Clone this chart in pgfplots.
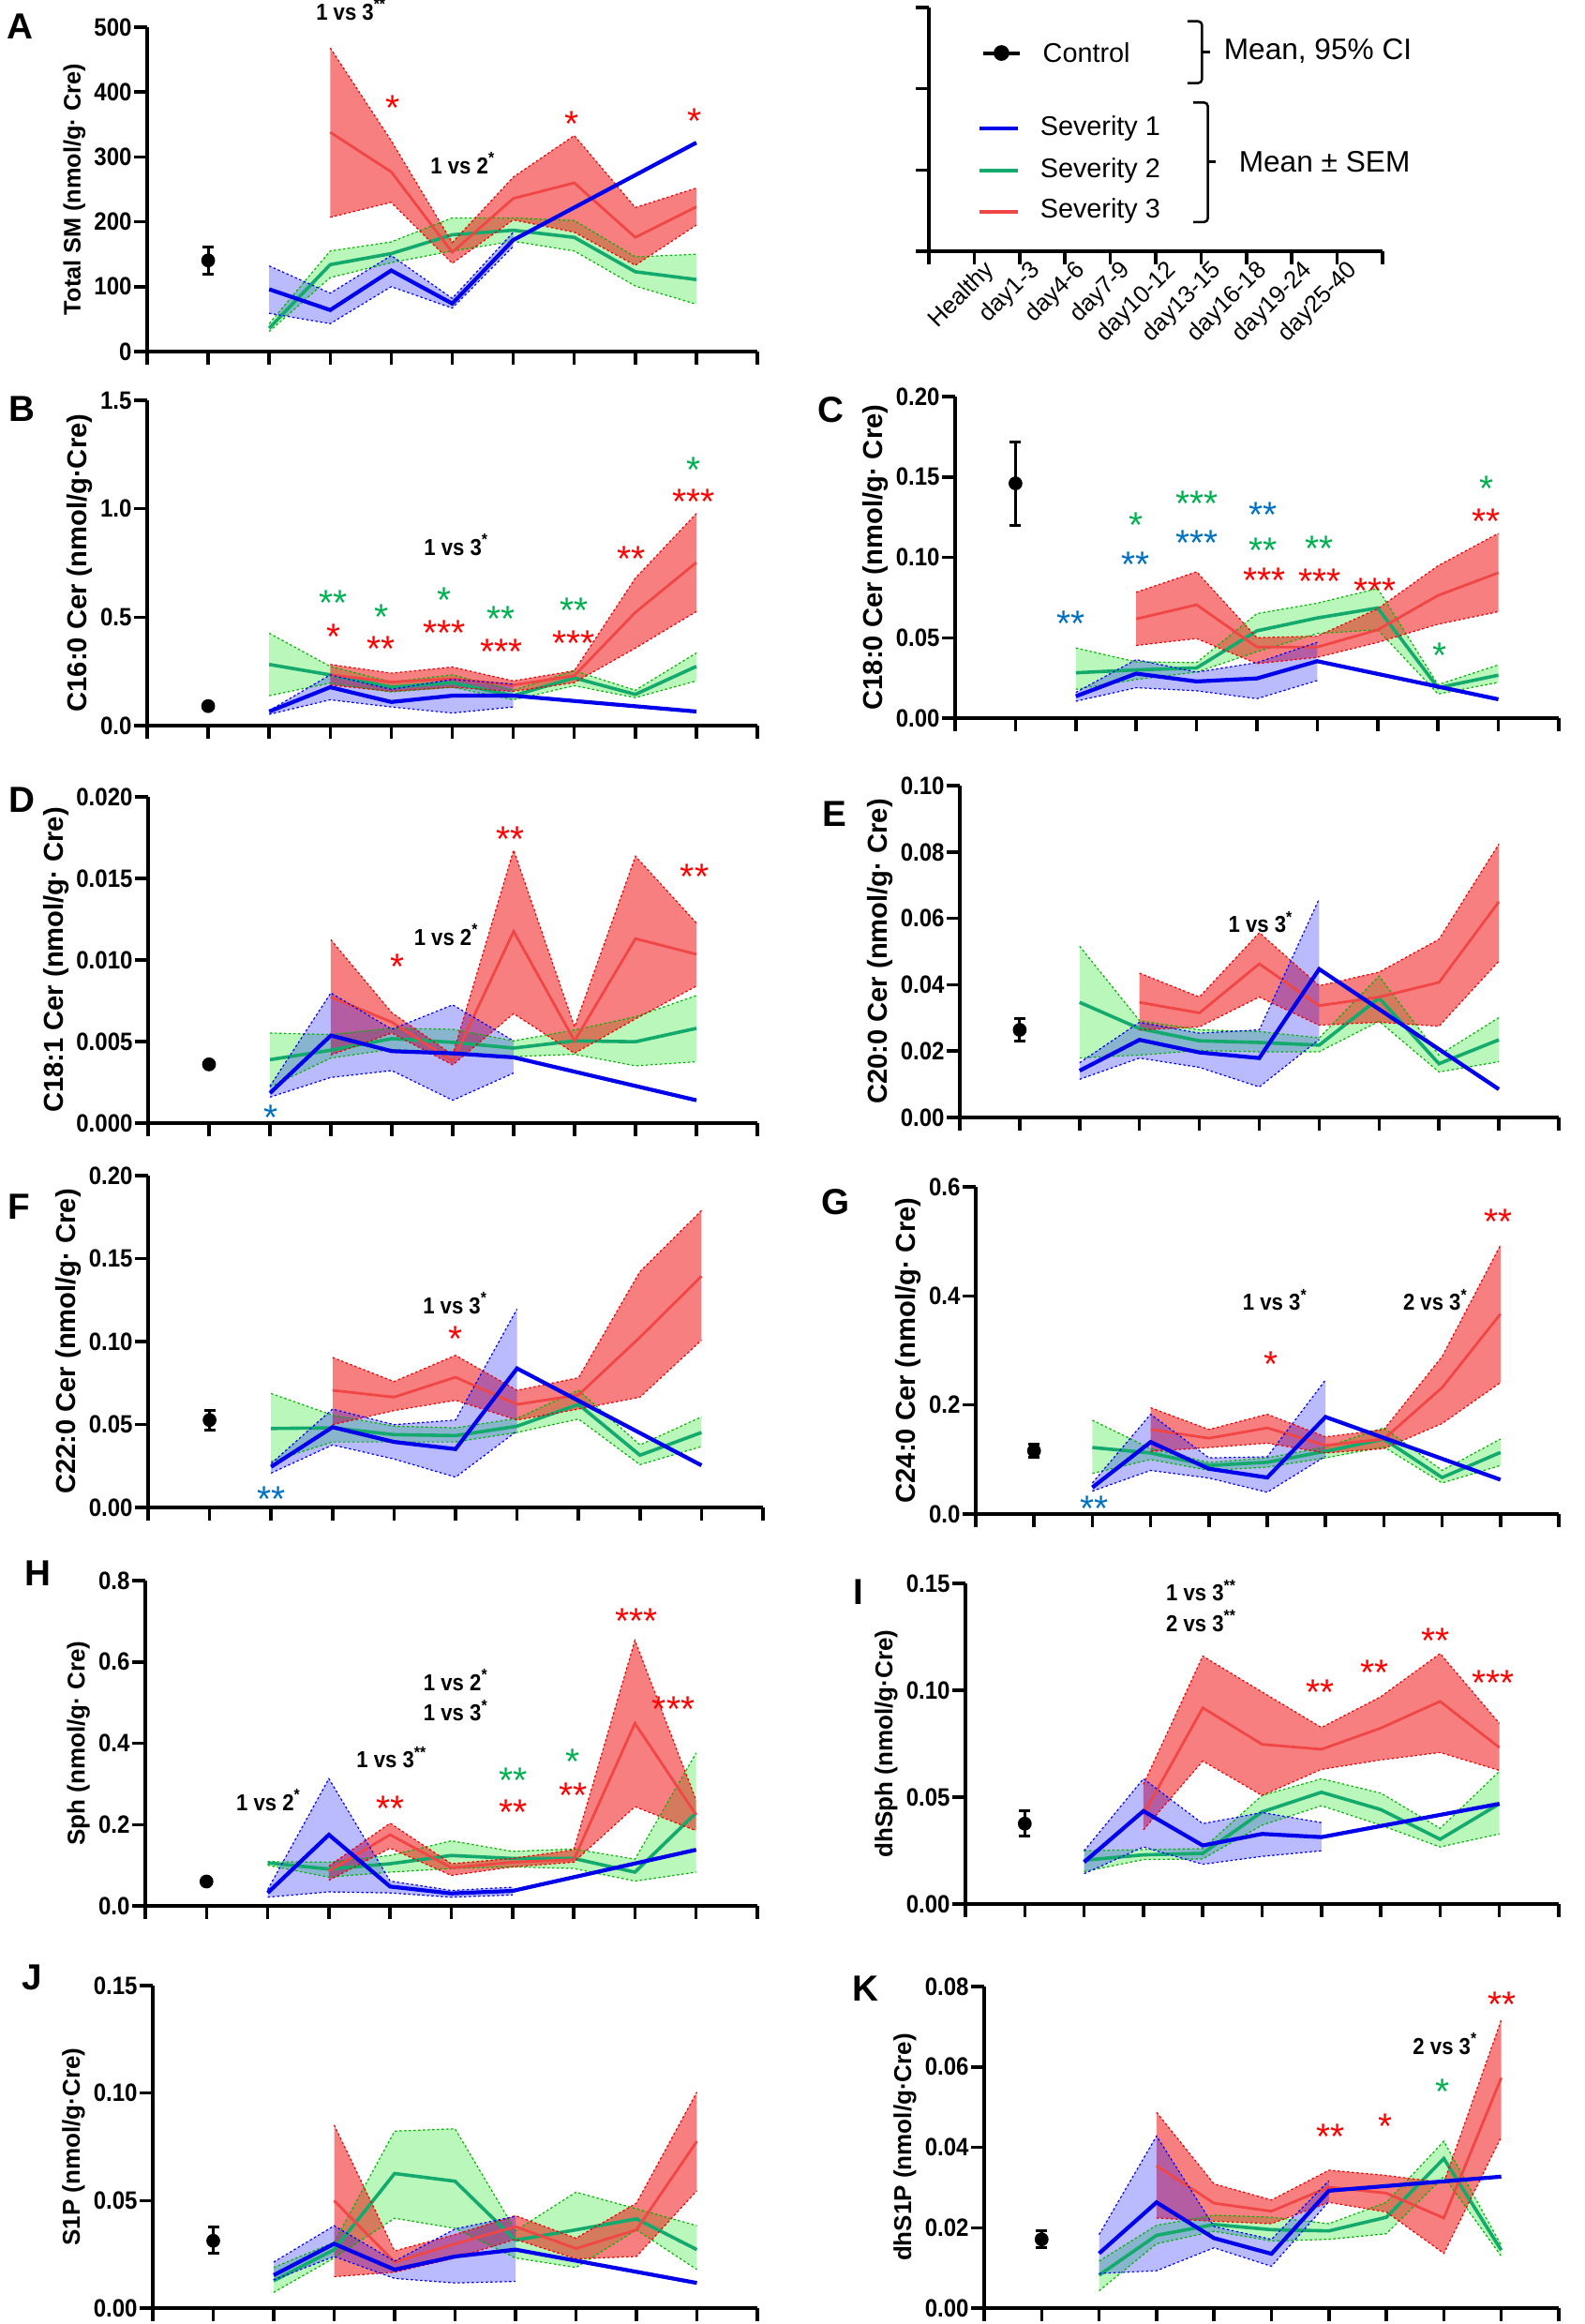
\documentclass[border=0pt]{standalone}
\usepackage{fontspec}
\setmainfont{Liberation Sans}
\newfontfamily\cond[FakeStretch=0.9]{Liberation Sans}
\usepackage{pgfplots}
\pgfplotsset{compat=1.18}
\usepgfplotslibrary{fillbetween}

\definecolor{sOne}{RGB}{0,0,235}
\definecolor{sTwo}{RGB}{20,170,110}
\definecolor{sThree}{RGB}{240,70,70}
\definecolor{bOne}{RGB}{0,0,255}
\definecolor{bTwo}{RGB}{0,225,0}
\definecolor{bThree}{RGB}{240,0,0}
\definecolor{stR}{RGB}{255,0,0}
\definecolor{stG}{RGB}{0,176,80}
\definecolor{stB}{RGB}{0,112,192}

\newcommand\tickf{\cond\bfseries\fontsize{7.6}{8}\selectfont}
\newcommand\labA{\bfseries\fontsize{7.2}{8}\selectfont}
\newcommand\labB{\bfseries\fontsize{8.3}{9}\selectfont}
\newcommand\labC{\bfseries\fontsize{7.4}{8}\selectfont}
\newcommand\annf{\cond\bfseries\fontsize{7}{8}\selectfont}
\newcommand\legf{\fontsize{8.2}{9}\selectfont}
\newcommand\legx{\fontsize{7.3}{8}\selectfont}
\newcommand\legfb{\fontsize{9}{10}\selectfont}

\pgfplotsset{
  panel/.style={
    scale only axis, anchor=south west, clip=false,
    axis x line=bottom, axis y line=left,
    axis line style={-, line width=0.4mm, black},
    xmin=-1, xmax=9, xtick={-1,0,...,9}, xticklabels={},
    tick align=outside, major tick length=1.4mm,
    every tick/.style={black, line width=0.35mm},
    scaled y ticks=false,
    /pgf/number format/assume math mode=true,
    tick label style={font=\tickf},
    yticklabel style={inner xsep=0.5pt},
    ylabel style={font=\labA}, ylabel shift=-0.5mm,
  },
  labB/.style={ylabel style={font=\labB}, ylabel shift=-0.6mm},
  labC/.style={ylabel style={font=\labC}, ylabel shift=-0.5mm},
  ydec/.style={yticklabel style={/pgf/number format/.cd, fixed, fixed zerofill, precision=#1}},
  lineone/.style={sOne, line width=0.42mm, no markers},
  linetwo/.style={sTwo, line width=0.36mm, no markers},
  linethree/.style={sThree, line width=0.28mm, no markers},
  edgeone/.style={bOne, line width=0.12mm, dash pattern=on 0.25mm off 0.25mm, no markers},
  edgetwo/.style={bTwo!80!black, line width=0.12mm, dash pattern=on 0.25mm off 0.25mm, no markers},
  edgethree/.style={bThree, line width=0.12mm, dash pattern=on 0.25mm off 0.25mm, no markers},
  fillone/.style={fill=bOne, fill opacity=0.27, draw=none},
  filltwo/.style={fill=bTwo, fill opacity=0.27, draw=none},
  fillthree/.style={fill=bThree, fill opacity=0.5, draw=none},
}
\tikzset{
  st/.style={font=\fontsize{11}{11}\selectfont, anchor=base, yshift=-6.3pt, inner sep=0pt},
  an/.style={font=\annf, inner sep=0pt, align=center},
  plab/.style={font=\bfseries\fontsize{11}{11}\selectfont, inner sep=0pt},
  lg/.style={anchor=west, font=\legf, inner sep=0pt},
}
% #1 series, #2 upper, #3 lower, #4 mean line
\newcommand\band[4]{%
  \addplot[edge#1, name path=u#1] coordinates {#2};
  \addplot[edge#1, name path=l#1] coordinates {#3};
  \addplot[fill#1] fill between[of=u#1 and l#1];
  \addplot[line#1] coordinates {#4};
}
% control: mean, lower CI, upper CI
\newcommand\ctrl[3]{%
  \addplot[black, line width=0.3mm] coordinates {(0,#2) (0,#3)};
  \addplot[black, only marks, mark=-, mark size=0.6mm, mark options={line width=0.3mm}] coordinates {(0,#2) (0,#3)};
  \addplot[black, only marks, mark=*, mark size=1.9pt] coordinates {(0,#1)};
}

\begin{document}
\begin{tikzpicture}

% ---------------- Panel A
\begin{axis}[panel, at={(15.7mm,-37.5mm)}, width=65.1mm, height=34.6mm,
  ymin=0, ymax=500, ytick={0,100,200,300,400,500},
  ylabel={Total SM (nmol/g· Cre)}]
\ctrl{140.5}{119}{161}
\band{two}{(1,43) (2,155) (3,169) (4,206) (5,206) (6,202) (7,146) (8,150)}
 {(1,31) (2,114) (3,137) (4,155) (5,170) (6,155) (7,101) (8,73)}
 {(1,36) (2,134) (3,151) (4,180) (5,187) (6,176) (7,123) (8,111)}
\band{three}{(2,468) (3,325) (4,168) (5,269) (6,333) (7,222) (8,252)}
 {(2,207) (3,230) (4,136) (5,203) (6,184) (7,133) (8,195)}
 {(2,338) (3,277) (4,153) (5,236) (6,260) (7,176) (8,223)}
\band{one}{(1,132) (2,90) (3,148) (4,82) (5,184)}
 {(1,59) (2,43) (3,100) (4,67) (5,162)}
 {(1,96) (2,64) (3,125) (4,74) (5,172) (8,322)}
\node[an] at (axis cs:2.35,527) {1 vs 3\textsuperscript{**}};
\node[an] at (axis cs:4.18,290) {1 vs 2\textsuperscript{*}};
\node[st,text=stR] at (axis cs:3.02,388) {*};
\node[st,text=stR] at (axis cs:5.96,364) {*};
\node[st,text=stR] at (axis cs:7.97,368) {*};
\end{axis}

% ---------------- Legend panel
\begin{axis}[panel, at={(99.1mm,-26.8mm)}, width=48.4mm, height=26.0mm,
  ymin=0, ymax=3, ytick={0,1,2,3}, yticklabels={},
  extra x ticks={0,1,2,3,4,5,6,7,8},
  extra x tick labels={Healthy,day1-3,day4-6,day7-9,day10-12,day13-15,day16-18,day19-24,day25-40},
  extra x tick style={xticklabel style={rotate=45, anchor=north east, font=\legx, inner sep=0.5pt, xshift=1.3mm}}]
\addplot[black, line width=0.4mm, mark=*, mark size=1.8pt, mark indices={2}] coordinates {(0.20,2.44) (0.60,2.44) (1.00,2.44)};
\addplot[sOne, line width=0.4mm] coordinates {(0.12,1.51) (0.96,1.51)};
\addplot[sTwo, line width=0.4mm] coordinates {(0.12,0.99) (0.96,0.99)};
\addplot[sThree, line width=0.4mm] coordinates {(0.12,0.49) (0.96,0.49)};
\node[lg] at (axis cs:1.50,2.44) {Control};
\node[lg] at (axis cs:1.44,1.51) {Severity 1};
\node[lg] at (axis cs:1.44,0.99) {Severity 2};
\node[lg] at (axis cs:1.44,0.49) {Severity 3};
\draw[line width=0.25mm, rounded corners=0.4mm] (axis cs:4.70,2.83) -- (axis cs:5.02,2.83) -- (axis cs:5.02,2.07) -- (axis cs:4.70,2.07);
\draw[line width=0.25mm] (axis cs:5.02,2.45) -- (axis cs:5.20,2.45);
\draw[line width=0.25mm, rounded corners=0.4mm] (axis cs:4.83,1.83) -- (axis cs:5.15,1.83) -- (axis cs:5.15,0.36) -- (axis cs:4.83,0.36);
\draw[line width=0.25mm] (axis cs:5.15,1.10) -- (axis cs:5.33,1.10);
\node[lg, font=\legfb] at (axis cs:5.49,2.46) {Mean, 95\% CI};
\node[lg, font=\legfb] at (axis cs:5.82,1.10) {Mean ± SEM};
\end{axis}

% ---------------- Panel B
\begin{axis}[panel, labB, at={(15.7mm,-77.4mm)}, width=65.1mm, height=34.7mm,
  ymin=0, ymax=1.5, ytick={0,0.5,1,1.5}, ydec=1,
  ylabel={C16:0 Cer (nmol/g·Cre)}]
\ctrl{0.09}{0.086}{0.094}
\band{two}{(1,0.426) (2,0.273) (3,0.201) (4,0.234) (5,0.163) (6,0.253) (7,0.163) (8,0.335)}
 {(1,0.138) (2,0.196) (3,0.155) (4,0.177) (5,0.119) (6,0.184) (7,0.129) (8,0.206)}
 {(1,0.282) (2,0.234) (3,0.177) (4,0.198) (5,0.138) (6,0.220) (7,0.144) (8,0.273)}
\band{three}{(2,0.282) (3,0.242) (4,0.270) (5,0.206) (6,0.253) (7,0.680) (8,0.978)}
 {(2,0.187) (3,0.158) (4,0.177) (5,0.158) (6,0.198) (7,0.357) (8,0.526)}
 {(2,0.234) (3,0.201) (4,0.216) (5,0.187) (6,0.230) (7,0.522) (8,0.752)}
\band{one}{(1,0.069) (2,0.234) (3,0.167) (4,0.213) (5,0.191)}
 {(1,0.052) (2,0.119) (3,0.086) (4,0.058) (5,0.086)}
 {(1,0.065) (2,0.177) (3,0.109) (4,0.138) (5,0.138) (8,0.065)}
\node[an] at (axis cs:4.07,0.834) {1 vs 3\textsuperscript{*}};
\node[st,text=stG] at (axis cs:2.05,0.604) {**};
\node[st,text=stR] at (axis cs:2.05,0.450) {*};
\node[st,text=stG] at (axis cs:2.84,0.541) {*};
\node[st,text=stR] at (axis cs:2.84,0.393) {**};
\node[st,text=stG] at (axis cs:3.87,0.616) {*};
\node[st,text=stR] at (axis cs:3.87,0.467) {***};
\node[st,text=stG] at (axis cs:4.80,0.529) {**};
\node[st,text=stR] at (axis cs:4.80,0.381) {***};
\node[st,text=stG] at (axis cs:5.99,0.570) {**};
\node[st,text=stR] at (axis cs:5.99,0.417) {***};
\node[st,text=stR] at (axis cs:6.93,0.807) {**};
\node[st,text=stG] at (axis cs:7.96,1.217) {*};
\node[st,text=stR] at (axis cs:7.96,1.069) {***};
\end{axis}

% ---------------- Panel C
\begin{axis}[panel, labB, at={(101.9mm,-76.6mm)}, width=64.4mm, height=34.3mm,
  ymin=0, ymax=0.2, ytick={0,0.05,0.1,0.15,0.2}, ydec=2,
  ylabel={C18:0 Cer (nmol/g· Cre)}]
\ctrl{0.146}{0.120}{0.172}
\band{two}{(1,0.0436) (2,0.035) (3,0.0345) (4,0.065) (5,0.0715) (6,0.0806) (7,0.0208) (8,0.0331)}
 {(1,0.0179) (2,0.024) (3,0.0286) (4,0.0413) (5,0.0526) (6,0.055) (7,0.015) (8,0.0222)}
 {(1,0.0282) (2,0.030) (3,0.0312) (4,0.0543) (5,0.0623) (6,0.0685) (7,0.0189) (8,0.0267)}
\band{three}{(2,0.0783) (3,0.091) (4,0.050) (5,0.051) (6,0.068) (7,0.0948) (8,0.1149)}
 {(2,0.0452) (3,0.0495) (4,0.0339) (5,0.0378) (6,0.0471) (7,0.0584) (8,0.0662)}
 {(2,0.0617) (3,0.0705) (4,0.0442) (5,0.0442) (6,0.0549) (7,0.0763) (8,0.0904)}
\band{one}{(1,0.016) (2,0.0364) (3,0.0286) (4,0.0345) (5,0.0471)}
 {(1,0.0105) (2,0.0189) (3,0.017) (4,0.0121) (5,0.0234)}
 {(1,0.0136) (2,0.0277) (3,0.0228) (4,0.0247) (5,0.0354) (8,0.0117)}
\node[st,text=stB] at (axis cs:0.92,0.0637) {**};
\node[st,text=stG] at (axis cs:1.99,0.1254) {*};
\node[st,text=stB] at (axis cs:1.99,0.1007) {**};
\node[st,text=stG] at (axis cs:3.01,0.1387) {***};
\node[st,text=stB] at (axis cs:3.01,0.1139) {***};
\node[st,text=stB] at (axis cs:4.10,0.1313) {**};
\node[st,text=stG] at (axis cs:4.10,0.1094) {**};
\node[st,text=stR] at (axis cs:4.12,0.0909) {***};
\node[st,text=stG] at (axis cs:5.03,0.1104) {**};
\node[st,text=stR] at (axis cs:5.04,0.0904) {***};
\node[st,text=stR] at (axis cs:5.96,0.0845) {***};
\node[st,text=stG] at (axis cs:7.03,0.0442) {*};
\node[st,text=stG] at (axis cs:7.80,0.148) {*};
\node[st,text=stR] at (axis cs:7.80,0.1274) {**};
\end{axis}

% ---------------- Panel D
\begin{axis}[panel, labB, at={(15.8mm,-119.8mm)}, width=65.0mm, height=34.8mm,
  ymin=0, ymax=0.02, ytick={0,0.005,0.01,0.015,0.02}, ydec=3,
  ylabel={C18:1 Cer (nmol/g· Cre)}]
\ctrl{0.0036}{0.0035}{0.0037}
\band{two}{(1,0.00552) (2,0.00543) (3,0.00581) (4,0.00575) (5,0.00504) (6,0.00571) (7,0.00652) (8,0.00782)}
 {(1,0.00222) (2,0.00399) (3,0.00453) (4,0.00418) (5,0.00408) (6,0.00422) (7,0.00351) (8,0.00376)}
 {(1,0.00389) (2,0.00447) (3,0.00518) (4,0.00495) (5,0.0046) (6,0.00504) (7,0.00499) (8,0.00581)}
\band{three}{(2,0.01124) (3,0.00677) (4,0.00418) (5,0.01674) (6,0.0059) (7,0.01636) (8,0.01227)}
 {(2,0.00418) (3,0.00552) (4,0.00357) (5,0.00671) (6,0.00428) (7,0.00639) (8,0.0084)}
 {(2,0.00773) (3,0.00619) (4,0.0038) (5,0.01175) (6,0.00504) (7,0.01131) (8,0.01035)}
\band{one}{(1,0.00226) (2,0.00798) (3,0.00575) (4,0.00725) (5,0.00504)}
 {(1,0.00159) (2,0.0028) (3,0.00322) (4,0.0014) (5,0.00307)}
 {(1,0.00184) (2,0.00537) (3,0.00441) (4,0.00428) (5,0.00403) (8,0.0014)}
\node[an] at (axis cs:3.90,0.01156) {1 vs 2\textsuperscript{*}};
\node[st,text=stR] at (axis cs:3.09,0.01012) {*};
\node[st,text=stR] at (axis cs:4.95,0.01789) {**};
\node[st,text=stR] at (axis cs:7.97,0.01559) {**};
\node[st,text=stB] at (axis cs:1.02,0.00082) {*};
\end{axis}

% ---------------- Panel E
\begin{axis}[panel, labB, at={(102.4mm,-119.2mm)}, width=63.9mm, height=35.4mm,
  ymin=0, ymax=0.1, ytick={0,0.02,0.04,0.06,0.08,0.1}, ydec=2,
  ylabel={C20:0 Cer (nmol/g· Cre)}]
\ctrl{0.0264}{0.0229}{0.0299}
\band{two}{(1,0.0516) (2,0.0292) (3,0.0264) (4,0.0259) (5,0.024) (6,0.0426) (7,0.0188) (8,0.0301)}
 {(1,0.0179) (2,0.0188) (3,0.0202) (4,0.0198) (5,0.0198) (6,0.029) (7,0.0137) (8,0.0168)}
 {(1,0.0347) (2,0.0268) (3,0.0231) (4,0.0226) (5,0.0218) (6,0.036) (7,0.0162) (8,0.0234)}
\band{three}{(2,0.0435) (3,0.0363) (4,0.0557) (5,0.0397) (6,0.0438) (7,0.0537) (8,0.0824)}
 {(2,0.0264) (3,0.0273) (4,0.0363) (5,0.0278) (6,0.0287) (7,0.0275) (8,0.0471)}
 {(2,0.0347) (3,0.0315) (4,0.0463) (5,0.0337) (6,0.0363) (7,0.0407) (8,0.065)}
\band{one}{(1,0.0165) (2,0.0287) (3,0.0254) (4,0.0264) (5,0.0659)}
 {(1,0.0115) (2,0.0179) (3,0.0151) (4,0.0092) (5,0.0235)}
 {(1,0.0141) (2,0.0234) (3,0.0196) (4,0.0179) (5,0.0447) (8,0.0085)}
\node[an] at (axis cs:4.03,0.0589) {1 vs 3\textsuperscript{*}};
\end{axis}

% ---------------- Panel F
\begin{axis}[panel, labB, at={(15.8mm,-160.8mm)}, width=65.6mm, height=35.4mm,
  ymin=0, ymax=0.2, ytick={0,0.05,0.1,0.15,0.2}, ydec=2,
  ylabel={C22:0 Cer (nmol/g· Cre)}]
\ctrl{0.0527}{0.0467}{0.0587}
\band{two}{(1,0.0687) (2,0.0556) (3,0.049) (4,0.048) (5,0.0537) (6,0.0706) (7,0.0377) (8,0.0546)}
 {(1,0.0277) (2,0.0395) (3,0.0395) (4,0.0395) (5,0.0452) (6,0.0533) (7,0.0258) (8,0.0367)}
 {(1,0.0476) (2,0.048) (3,0.0439) (4,0.0433) (5,0.049) (6,0.0621) (7,0.0315) (8,0.0452)}
\band{three}{(2,0.0904) (3,0.0759) (4,0.0917) (5,0.0706) (6,0.0782) (7,0.1422) (8,0.1789)}
 {(2,0.0499) (3,0.0584) (4,0.0646) (5,0.0527) (6,0.0593) (7,0.0665) (8,0.1008)}
 {(2,0.0706) (3,0.0665) (4,0.0785) (5,0.0621) (6,0.0678) (7,0.1026) (8,0.1394)}
\band{one}{(1,0.0265) (2,0.0593) (3,0.0499) (4,0.0527) (5,0.1196)}
 {(1,0.0207) (2,0.0377) (3,0.0292) (4,0.0183) (5,0.0461)}
 {(1,0.0245) (2,0.0484) (3,0.0395) (4,0.0352) (5,0.0838) (8,0.0254)}
\node[an] at (axis cs:4.0,0.123) {1 vs 3\textsuperscript{*}};
\node[st,text=stR] at (axis cs:4.0,0.1064) {*};
\node[st,text=stB] at (axis cs:1.0,0.010) {**};
\end{axis}

% ---------------- Panel G
\begin{axis}[panel, labB, at={(104.1mm,-161.5mm)}, width=62.2mm, height=34.9mm,
  ymin=0, ymax=0.6, ytick={0,0.2,0.4,0.6}, ydec=1,
  ylabel={C24:0 Cer (nmol/g· Cre)}]
\ctrl{0.116}{0.104}{0.128}
\band{two}{(1,0.172) (2,0.120) (3,0.0946) (4,0.103) (5,0.123) (6,0.158) (7,0.080) (8,0.1375)}
 {(1,0.0745) (2,0.100) (3,0.080) (4,0.086) (5,0.103) (6,0.123) (7,0.057) (8,0.089)}
 {(1,0.122) (2,0.112) (3,0.089) (4,0.095) (5,0.115) (6,0.1375) (7,0.067) (8,0.113)}
\band{three}{(2,0.195) (3,0.155) (4,0.183) (5,0.1415) (6,0.155) (7,0.289) (8,0.493)}
 {(2,0.115) (3,0.122) (4,0.130) (5,0.112) (6,0.120) (7,0.166) (8,0.241)}
 {(2,0.155) (3,0.139) (4,0.158) (5,0.126) (6,0.1375) (7,0.232) (8,0.367)}
\band{one}{(1,0.057) (2,0.183) (3,0.103) (4,0.105) (5,0.246)}
 {(1,0.042) (2,0.080) (3,0.066) (4,0.040) (5,0.106)}
 {(1,0.0487) (2,0.132) (3,0.083) (4,0.067) (5,0.178) (8,0.063)}
\node[an] at (axis cs:4.14,0.3926) {1 vs 3\textsuperscript{*}};
\node[an] at (axis cs:6.89,0.3926) {2 vs 3\textsuperscript{*}};
\node[st,text=stR] at (axis cs:4.07,0.2906) {*};
\node[st,text=stR] at (axis cs:7.96,0.552) {**};
\node[st,text=stB] at (axis cs:1.04,0.0246) {**};
\end{axis}

% ---------------- Panel H
\begin{axis}[panel, labC, at={(15.5mm,-203.3mm)}, width=65.3mm, height=34.7mm,
  ymin=0, ymax=0.8, ytick={0,0.2,0.4,0.6,0.8}, ydec=1,
  ylabel={Sph (nmol/g· Cre)}]
\ctrl{0.06}{0.058}{0.062}
\band{two}{(1,0.109) (2,0.1075) (3,0.124) (4,0.16) (5,0.134) (6,0.14) (7,0.115) (8,0.376)}
 {(1,0.10) (2,0.0706) (3,0.083) (4,0.092) (5,0.096) (6,0.092) (7,0.061) (8,0.083)}
 {(1,0.106) (2,0.0906) (3,0.1037) (4,0.124) (5,0.1167) (6,0.1167) (7,0.083) (8,0.229)}
\band{three}{(2,0.098) (3,0.2035) (4,0.1037) (5,0.1167) (6,0.138) (7,0.653) (8,0.26)}
 {(2,0.063) (3,0.142) (4,0.075) (5,0.096) (6,0.1075) (7,0.244) (8,0.185)}
 {(2,0.086) (3,0.175) (4,0.0937) (5,0.1075) (6,0.1136) (7,0.449) (8,0.224)}
\band{one}{(1,0.04) (2,0.313) (3,0.061) (4,0.038) (5,0.046)}
 {(1,0.0215) (2,0.0345) (3,0.032) (4,0.0215) (5,0.027)}
 {(1,0.032) (2,0.175) (3,0.0476) (4,0.0307) (5,0.0369) (8,0.138)}
\node[an] at (axis cs:1.02,0.261) {1 vs 2\textsuperscript{*}};
\node[an] at (axis cs:3.03,0.365) {1 vs 3\textsuperscript{**}};
\node[an] at (axis cs:4.08,0.518) {1 vs 2\textsuperscript{*}\\[0.4mm]1 vs 3\textsuperscript{*}};
\node[st,text=stR] at (axis cs:3.01,0.2595) {**};
\node[st,text=stG] at (axis cs:5.01,0.3286) {**};
\node[st,text=stR] at (axis cs:5.01,0.2495) {**};
\node[st,text=stG] at (axis cs:5.99,0.376) {*};
\node[st,text=stR] at (axis cs:5.99,0.293) {**};
\node[st,text=stR] at (axis cs:7.02,0.7217) {***};
\node[st,text=stR] at (axis cs:7.63,0.503) {***};
\end{axis}

% ---------------- Panel I
\begin{axis}[panel, labC, at={(103.0mm,-203.1mm)}, width=63.3mm, height=34.2mm,
  ymin=0, ymax=0.15, ytick={0,0.05,0.1,0.15}, ydec=2,
  ylabel={dhSph (nmol/g·Cre)}]
\ctrl{0.0376}{0.0318}{0.0435}
\band{two}{(1,0.0249) (2,0.0255) (3,0.0259) (4,0.0508) (5,0.0586) (6,0.0519) (7,0.0354) (8,0.0621)}
 {(1,0.0152) (2,0.0208) (3,0.0211) (4,0.0369) (5,0.046) (6,0.0369) (7,0.0267) (8,0.0328)}
 {(1,0.0205) (2,0.023) (3,0.0237) (4,0.0431) (5,0.0523) (6,0.0442) (7,0.0303) (8,0.0469)}
\band{three}{(2,0.056) (3,0.116) (4,0.0992) (5,0.0826) (6,0.097) (7,0.1172) (8,0.0845)}
 {(2,0.0347) (3,0.0669) (4,0.0508) (5,0.063) (6,0.0674) (7,0.0709) (8,0.0625)}
 {(2,0.042) (3,0.0918) (4,0.0747) (5,0.0724) (6,0.0823) (7,0.0948) (8,0.0732)}
\band{one}{(1,0.0249) (2,0.0586) (3,0.0376) (4,0.0428) (5,0.0381)}
 {(1,0.0142) (2,0.0267) (3,0.0186) (4,0.0223) (5,0.0249)}
 {(1,0.0196) (2,0.0435) (3,0.0274) (4,0.0328) (5,0.0313) (8,0.0469)}
\node[an] at (axis cs:2.98,0.1396) {1 vs 3\textsuperscript{**}\\[0.4mm]2 vs 3\textsuperscript{**}};
\node[st,text=stR] at (axis cs:4.98,0.1028) {**};
\node[st,text=stR] at (axis cs:5.90,0.1123) {**};
\node[st,text=stR] at (axis cs:6.93,0.127) {**};
\node[st,text=stR] at (axis cs:7.90,0.1072) {***};
\end{axis}

% ---------------- Panel J
\begin{axis}[panel, labC, at={(16.3mm,-246.2mm)}, width=64.5mm, height=34.4mm,
  ymin=0, ymax=0.15, ytick={0,0.05,0.1,0.15}, ydec=2,
  ylabel={S1P (nmol/g·Cre)}]
\ctrl{0.0313}{0.0255}{0.0379}
\band{two}{(1,0.0189) (2,0.0306) (3,0.0823) (4,0.0834) (5,0.036) (6,0.0539) (7,0.0462) (8,0.0383)}
 {(1,0.0073) (2,0.0233) (3,0.0418) (4,0.0371) (5,0.0233) (6,0.0189) (7,0.0364) (8,0.0179)}
 {(1,0.0127) (2,0.0272) (3,0.0626) (4,0.059) (5,0.0316) (6,0.0364) (7,0.0415) (8,0.0272)}
\band{three}{(2,0.0852) (3,0.0266) (4,0.0342) (5,0.043) (6,0.0325) (7,0.0488) (8,0.1005)}
 {(2,0.0146) (3,0.0167) (4,0.0233) (5,0.032) (6,0.0229) (7,0.024) (8,0.0546)}
 {(2,0.05) (3,0.0214) (4,0.0299) (5,0.0379) (6,0.0277) (7,0.0364) (8,0.0776)}
\band{one}{(1,0.0214) (2,0.0383) (3,0.0218) (4,0.0368) (5,0.0427)}
 {(1,0.0131) (2,0.024) (3,0.0138) (4,0.0117) (5,0.0124)}
 {(1,0.0153) (2,0.0299) (3,0.0179) (4,0.024) (5,0.0272) (8,0.0117)}
\end{axis}

% ---------------- Panel K
\begin{axis}[panel, labC, at={(105.0mm,-246.2mm)}, width=61.3mm, height=34.3mm,
  ymin=0, ymax=0.08, ytick={0,0.02,0.04,0.06,0.08}, ydec=2,
  ylabel={dhS1P (nmol/g·Cre)}]
\ctrl{0.0171}{0.0150}{0.0192}
\band{two}{(1,0.0117) (2,0.0206) (3,0.0231) (4,0.0226) (5,0.021) (6,0.0263) (7,0.0415) (8,0.0156)}
 {(1,0.0043) (2,0.016) (3,0.0191) (4,0.0167) (5,0.0171) (6,0.0185) (7,0.0327) (8,0.0129)}
 {(1,0.0082) (2,0.0181) (3,0.0208) (4,0.0195) (5,0.0192) (6,0.0226) (7,0.0372) (8,0.0144)}
\band{three}{(2,0.0487) (3,0.0309) (4,0.0269) (5,0.0343) (6,0.033) (7,0.0312) (8,0.0717)}
 {(2,0.0224) (3,0.0216) (4,0.021) (5,0.0263) (6,0.0239) (7,0.0136) (8,0.0426)}
 {(2,0.0354) (3,0.0261) (4,0.0241) (5,0.0301) (6,0.0286) (7,0.0224) (8,0.0573)}
\band{one}{(1,0.0183) (2,0.0428) (3,0.0203) (4,0.0171) (5,0.0317)}
 {(1,0.0086) (2,0.0093) (3,0.015) (4,0.0104) (5,0.0265)}
 {(1,0.0136) (2,0.0263) (3,0.0174) (4,0.0135) (5,0.0292) (8,0.0327)}
\node[an] at (axis cs:7.03,0.0658) {2 vs 3\textsuperscript{*}};
\node[st,text=stG] at (axis cs:6.97,0.0559) {*};
\node[st,text=stR] at (axis cs:5.03,0.0448) {**};
\node[st,text=stR] at (axis cs:5.99,0.0473) {*};
\node[st,text=stR] at (axis cs:8.02,0.0777) {**};
\end{axis}

% ---------------- panel letters
\node[plab] at (2.1mm,-2.8mm) {A};
\node[plab] at (2.3mm,-43.6mm) {B};
\node[plab] at (88.6mm,-43.7mm) {C};
\node[plab] at (2.3mm,-85.3mm) {D};
\node[plab] at (89.0mm,-86.8mm) {E};
\node[plab] at (2.0mm,-128.7mm) {F};
\node[plab] at (89.2mm,-128.2mm) {G};
\node[plab] at (4.0mm,-167.8mm) {H};
\node[plab] at (91.6mm,-169.8mm) {I};
\node[plab] at (3.4mm,-210.9mm) {J};
\node[plab] at (92.3mm,-212.1mm) {K};

\pgfresetboundingbox
\path (0,0) rectangle (169mm,-247.9mm);
\end{tikzpicture}
\end{document}
